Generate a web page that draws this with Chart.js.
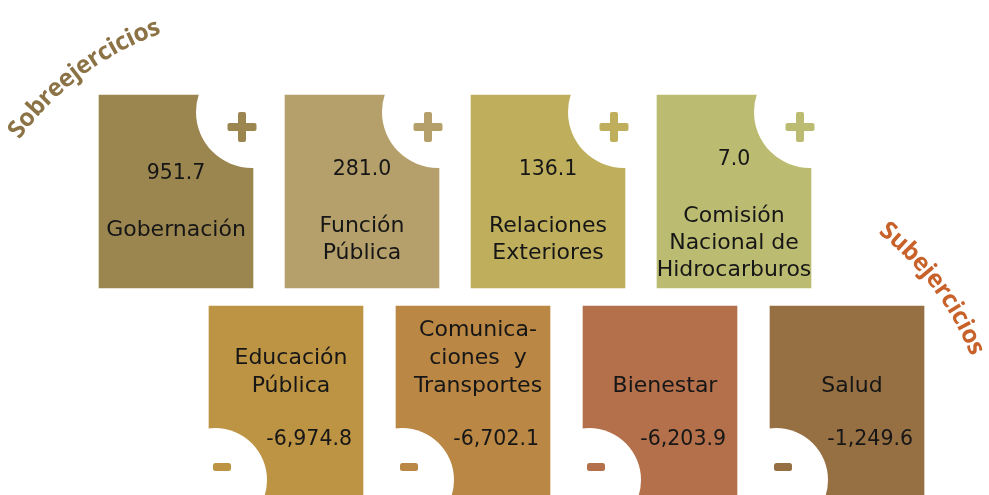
<!DOCTYPE html>
<html>
<head>
<meta charset="utf-8">
<script src="https://cdn.jsdelivr.net/npm/chart.js@4.4.1/dist/chart.umd.min.js"></script>
<style>
html,body{margin:0;padding:0;background:#fff;}
#wrap{width:989px;height:495px;}
</style>
</head>
<body>
<div id="wrap"><canvas id="chart" width="989" height="495"></canvas></div>
<script>
// ramos y variación (millones de pesos)
const ramos = [
  ["Gobernación"],
  ["Función", "Pública"],
  ["Relaciones", "Exteriores"],
  ["Comisión", "Nacional de", "Hidrocarburos"],
  ["Educación", "Pública"],
  ["Comunica-", "ciones  y", "Transportes"],
  ["Bienestar"],
  ["Salud"]
];
const montos = [951.7, 281.0, 136.1, 7.0, -6974.8, -6702.1, -6203.9, -1249.6];
const colores = ["#9c8650", "#b5a06b", "#bfaf5c", "#bcbb72", "#bd9444", "#ba8744", "#b3704b", "#966f42"];
const titulos = ["Sobreejercicios", "Subejercicios"];
const coloresTitulo = ["#8b7346", "#c8622a"];

const W = 989, H = 495;
const FUENTE = "'DejaVu Sans', sans-serif";

// filas: arriba los sobreejercicios, abajo los subejercicios
const fila = {
  sobre: {x0: 176, paso: 186, y: [95, 288]},
  sub:   {x0: 286, paso: 187, y: [306, 500]}
};

function qs(id){ return document.getElementById(id); }

function fmt(n){
  return n.toLocaleString("en-US", {minimumFractionDigits: 1, maximumFractionDigits: 1});
}

function puntos(positivo){
  const f = positivo ? fila.sobre : fila.sub;
  const out = [];
  montos.forEach((v, i) => {
    if ((v > 0) === positivo) out.push({x: f.x0 + out.length * f.paso, y: f.y, i});
  });
  return out;
}

function rrect(c, x, y, w, h, r){
  c.beginPath();
  c.moveTo(x + r, y);
  c.arcTo(x + w, y, x + w, y + h, r);
  c.arcTo(x + w, y + h, x, y + h, r);
  c.arcTo(x, y + h, x, y, r);
  c.arcTo(x, y, x + w, y, r);
  c.closePath();
  c.fill();
}

function textoArco(c, txt, cx, cy, r, angMid, color){
  const junta = -0.3;
  c.save();
  c.font = "bold 24.5px 'Open Sans', sans-serif";
  c.fillStyle = color;
  c.textAlign = "center";
  c.textBaseline = "alphabetic";
  let total = 0;
  for (const ch of txt) total += c.measureText(ch).width + junta;
  let a = angMid - total / 2 / r;
  for (const ch of txt){
    const w = c.measureText(ch).width;
    const am = a + w / 2 / r;
    c.save();
    c.translate(cx + r * Math.cos(am), cy + r * Math.sin(am));
    c.rotate(am + Math.PI / 2);
    c.fillText(ch, 0, 0);
    c.restore();
    a += (w + junta) / r;
  }
  c.restore();
}

const fichas = {
  id: "fichas",
  afterDatasetsDraw(chart){
    const c = chart.ctx;
    chart.data.datasets.forEach((ds, d) => {
      chart.getDatasetMeta(d).data.forEach((bar, j) => {
        const i = ds.data[j].i, v = montos[i];
        const left = bar.x - bar.width / 2, right = bar.x + bar.width / 2;
        const top = Math.min(bar.y, bar.base), bottom = Math.max(bar.y, bar.base);
        // hueco blanco (recortado a la ficha, con 1px de margen)
        c.save();
        c.beginPath();
        c.rect(left - 1, top - 1, right - left + 2, bottom - top + 2);
        c.clip();
        c.fillStyle = "#fff";
        c.beginPath();
        if (v > 0) c.arc(right - 1, top + 17, 56, 0, Math.PI * 2);
        else c.arc(left + 6, top + 174, 52, 0, Math.PI * 2);
        c.fill();
        c.restore();

        c.save();
        c.fillStyle = colores[i];
        if (v > 0){
          const px = right - 11, py = top + 32;
          rrect(c, px - 14.5, py - 4, 29, 8, 2);
          rrect(c, px - 4, py - 15, 8, 30, 2);
        } else {
          rrect(c, left + 4, top + 157, 18, 8, 2.5);
        }
        c.restore();

        c.save();
        c.fillStyle = "#161616";
        c.textBaseline = "middle";
        const lineas = ramos[i];
        const fNum = "20.5px " + FUENTE, fTxt = "22px " + FUENTE;
        if (v > 0){
          c.textAlign = "center";
          const ny = top + [79, 75, 65][lineas.length - 1];
          c.font = fNum;
          c.fillText(fmt(v), bar.x, ny);
          c.font = fTxt;
          lineas.forEach((t, k) => c.fillText(t, bar.x, ny + 56 + k * 27));
        } else {
          c.textAlign = "center";
          c.font = fTxt;
          const n = lineas.length;
          lineas.forEach((t, k) => c.fillText(t, bar.x + 5, top + 80 - (n - 1 - k) * 28));
          c.textAlign = "right";
          c.font = fNum;
          c.fillText(fmt(v), right - 11, top + 134);
        }
        c.restore();
      });
    });
    textoArco(c, titulos[0], 262, 316, 300, -126.8 * Math.PI / 180, coloresTitulo[0]);
    textoArco(c, titulos[1], 693, 469, 300, -37 * Math.PI / 180, coloresTitulo[1]);
  }
};

const chart = new Chart(qs("chart"), {
  type: "bar",
  data: {
    datasets: [
      {label: titulos[0], data: puntos(true), barThickness: 154, grouped: false,
       backgroundColor: ctx => colores[ctx.raw ? ctx.raw.i : 0]},
      {label: titulos[1], data: puntos(false), barThickness: 154, grouped: false,
       backgroundColor: ctx => colores[ctx.raw ? ctx.raw.i : 0]}
    ]
  },
  options: {
    responsive: false,
    animation: false,
    events: [],
    layout: {padding: 0},
    plugins: {legend: {display: false}, tooltip: {enabled: false}},
    scales: {
      x: {type: "linear", display: false, min: 0, max: W, offset: false},
      y: {display: false, min: 0, max: H, reverse: true}
    }
  },
  plugins: [fichas]
});
</script>
</body>
</html>
